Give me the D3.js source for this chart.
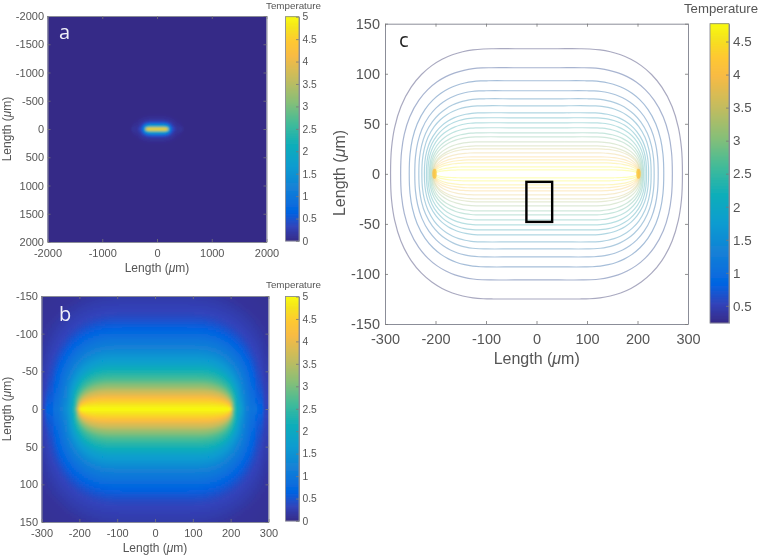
<!DOCTYPE html>
<html><head><meta charset="utf-8">
<script src="https://cdnjs.cloudflare.com/ajax/libs/d3/7.8.5/d3.min.js"></script>
<style>html,body{margin:0;background:#fff}svg{display:block}
text{font-family:"Liberation Sans",Arial,sans-serif;fill:#555}</style></head>
<body><svg id="c" width="760" height="556"></svg>
<script>
// --- data (Temperature, lengths in micrometres) ---
const contourLevels     = [0.35,0.65,0.95,1.15,1.4,1.6,1.8,2.0,2.2,2.4,2.6,2.8,3.1,3.3,3.6,3.8,4.05,4.3,4.5,4.7,4.85];
const contourHalfHeight = [125,106,93,83,75,68,61,56,51,46,41,37,32,28,25,21,17,14,11,7,4];
const contourHalfWidth  = [289,269,252,241,233,227,222,218,215,212,210,208,206.5,205,204,203,202.5,202,201.5,201,200.5];
const contourFlatEnd    = [85,90,95,100,100,105,105,110,110,110,110,110,110,110,115,115,120,120,125,130,135];
const cornerU = [0,0.1,0.2,0.3,0.4,0.5,0.6,0.7,0.8,0.9,0.96,0.99,1];
const cornerV = [1,0.998,0.991,0.976,0.952,0.916,0.865,0.794,0.693,0.536,0.372,0.211,0];
const outerLevels = [0,0.12], outerHeight = [270,165], outerWidth = [470,345], outerFlat = [0,40];
const sourceLevel = 5, sourceHalfLength = 200;
const sourceEnds = [-202,202], endSpotLevel = 4.1, endSpotRx = 4.5, endSpotRy = 5;
const ticksA = [-2000,-1500,-1000,-500,0,500,1000,1500,2000], ticksAx = [-2000,-1000,0,1000,2000];
const ticksBy = [-150,-100,-50,0,50,100,150], ticksBx = [-300,-200,-100,0,100,200,300];
const ticksCy = [-150,-100,-50,0,50,100,150], ticksCx = [-300,-200,-100,0,100,200,300];
const barTicks = [0,0.5,1,1.5,2,2.5,3,3.5,4,4.5,5];
const barTicksC = [0.5,1,1.5,2,2.5,3,3.5,4,4.5];
const barRangeC = [0.24,4.77];
const boxC = {x0:-20,x1:31,y0:-48,y1:-8};
const parula = ["#352a87","#3243ba","#0363e1","#1481d6","#079cd0","#0faeb9","#42bb98","#87bf77","#c0bc60","#f8bb44","#fec832","#f5e41d","#f9fb0e"];
const parulaPos = [0,4,8,15,21,27,33,39,45,52,56,60,63];

// --- helpers ---
const colorT = d3.scaleLinear().domain(parulaPos.map(d=>d/63)).range(parula).interpolate(d3.interpolateRgb).clamp(true);
const corner = d3.scaleLinear().domain(cornerU).range(cornerV);
const fL = outerLevels.concat(contourLevels,[sourceLevel]);
const fH = outerHeight.concat(contourHalfHeight,[0]);
const fW = outerWidth.concat(contourHalfWidth,[sourceHalfLength]);
const fF = outerFlat.concat(contourFlatEnd,[sourceHalfLength]);
function heightAt(i,x){ if(x<=fF[i]) return fH[i]; if(x>=fW[i]) return 0; return fH[i]*corner((x-fF[i])/(fW[i]-fF[i])); }
function temperature(px,py){
  const x=Math.abs(px), y=Math.abs(py);
  let prev=heightAt(0,x);
  if(y>=prev) return fL[0];
  for(let i=1;i<fL.length;i++){
    const h=heightAt(i,x);
    if(y>=h){ const t=(y-h)/((prev-h)||1); return fL[i]+(fL[i-1]-fL[i])*t; }
    prev=h;
  }
  return sourceLevel;
}
const svg = d3.select("#c");
const defs = svg.append("defs");
const soft = (id,s)=>defs.append("filter").attr("id",id).attr("x","-5%").attr("y","-5%").attr("width","110%").attr("height","110%")
  .append("feGaussianBlur").attr("stdDeviation",s);
soft("soft",0.35); soft("heat",0.9);
const root = svg.append("g").attr("filter","url(#soft)");
root.append("rect").attr("width",760).attr("height",556).attr("fill","#fff");

function styleAxis(g,size){
  g.selectAll("path.domain").attr("stroke","#8b8d98").attr("stroke-width",1);
  g.selectAll("line").attr("stroke","#777").attr("stroke-width",0.8);
  g.selectAll("text").attr("font-size",size).attr("fill","#555");
}
function axes(g,x,y,xt,yt,size,padX,padY){
  const [x0,x1]=x.range(), [y1,y0]=y.range();
  const f=d=>String(d);
  g.append("g").attr("transform",`translate(0,${Math.max(y0,y1)})`).call(d3.axisBottom(x).tickValues(xt).tickFormat(f).tickSizeInner(-3).tickSizeOuter(0).tickPadding(padX)).call(styleAxis,size);
  g.append("g").attr("transform",`translate(${x0},0)`).call(d3.axisLeft(y).tickValues(yt).tickFormat(f).tickSizeInner(-3).tickSizeOuter(0).tickPadding(padY)).call(styleAxis,size);
  g.append("g").attr("transform",`translate(0,${Math.min(y0,y1)})`).call(d3.axisTop(x).tickValues(xt).tickFormat("").tickSizeInner(-3).tickSizeOuter(0)).call(styleAxis,size);
  g.append("g").attr("transform",`translate(${x1},0)`).call(d3.axisRight(y).tickValues(yt).tickFormat("").tickSizeInner(-3).tickSizeOuter(0)).call(styleAxis,size);
}
function lengthLabel(cx,cy,size,rot){
  const t=root.append("text").attr("text-anchor","middle").attr("font-size",size).attr("fill","#555")
    .attr("transform",`translate(${cx},${cy})${rot?" rotate(-90)":""}`).attr("dy","0.35em");
  t.append("tspan").text("Length (");
  t.append("tspan").attr("font-style","italic").text("\u03bc");
  t.append("tspan").text("m)");
}
function colorbar(x0,x1,y0,y1,domain,ticks,tickSize,titleX,titleY,titleSize,pad){
  const s=d3.scaleLinear().domain(domain).range([y1,y0]);
  const g=root.append("g");
  const rows=d3.range(Math.floor(y0),Math.ceil(y1));
  g.selectAll("rect").data(rows).join("rect").attr("x",x0).attr("y",d=>d).attr("width",x1-x0).attr("height",1.2)
    .attr("fill",d=>colorT((y1-d-0.5)/(y1-y0)));
  g.append("g").attr("transform",`translate(${x1},0)`).call(d3.axisRight(s).tickValues(ticks).tickFormat(String).tickSizeInner(-3).tickSizeOuter(0).tickPadding(pad)).call(styleAxis,tickSize);
  g.append("rect").attr("x",x0).attr("y",y0).attr("width",x1-x0).attr("height",y1-y0).attr("fill","none").attr("stroke","#8b8d98").attr("stroke-width",0.9);
  root.append("text").attr("x",titleX).attr("y",titleY).attr("dy","0.35em").attr("text-anchor","middle").attr("font-size",titleSize).attr("fill","#555").text("Temperature");
}
function heatPanel(id,x,y,step,xt,yt,limit){
  const g=root.append("g");
  const [x0,x1]=x.range(), [yTop,yBot]=y.range();
  defs.append("clipPath").attr("id",id).append("rect").attr("x",x0).attr("y",yTop).attr("width",x1-x0).attr("height",yBot-yTop);
  const clip=g.append("g").attr("clip-path",`url(#${id})`);
  const hg=clip.append("g").attr("filter","url(#heat)");
  hg.append("rect").attr("x",x0-8).attr("y",yTop-8).attr("width",x1-x0+16).attr("height",yBot-yTop+16).attr("fill",colorT(0));
  const px=d3.range(x0-6,x1+6,step), py=d3.range(yTop-6,yBot+6,step);
  const cells=[];
  px.forEach(a=>py.forEach(b=>{
    const t=temperature(x.invert(a+step/2),y.invert(b+step/2));
    if(t>limit) cells.push({a,b,t});
  }));
  hg.selectAll("rect.c").data(cells).join("rect").attr("class","c").attr("x",d=>d.a).attr("y",d=>d.b)
    .attr("width",step+0.5).attr("height",step+0.5).attr("fill",d=>colorT(d.t/5));
  axes(g,x,y,xt,yt,11,7,3.5);
}
function panelLetter(s,x,y,fill){
  root.append("text").attr("x",x).attr("y",y).attr("font-size",20).attr("fill",fill).style("font-family","'Open Sans',sans-serif").style("fill",fill).text(s);
}

// --- panel a ---
heatPanel("clipA",d3.scaleLinear().domain([-2000,2000]).range([47.5,266.5]),d3.scaleLinear().domain([-2000,2000]).range([16,242]),1,ticksAx,ticksA,0.001);
lengthLabel(157,268,12,false); lengthLabel(7,129,12,true);
colorbar(285.5,299,16.7,241,[0,5],barTicks,10.3,293.5,5.5,9.8,3.5);
panelLetter("a",59,39,"#f0f0f8");

// --- panel b ---
heatPanel("clipB",d3.scaleLinear().domain([-300,300]).range([41.5,268.5]),d3.scaleLinear().domain([-150,150]).range([296,522]),2,ticksBx,ticksBy,0.001);
lengthLabel(155,548,12,false); lengthLabel(7,409,12,true);
colorbar(285.5,299,296.5,521,[0,5],barTicks,10.3,293.5,285,9.8,3.5);
panelLetter("b",59,320.5,"#f0f0f8");

// --- panel c ---
const xC=d3.scaleLinear().domain([-300,300]).range([385,688]);
const yC=d3.scaleLinear().domain([-150,150]).range([324,23.7]);
const line=d3.line().x(d=>xC(d[0])).y(d=>yC(d[1])).curve(d3.curveCatmullRomClosed.alpha(1));
const contourColor=d3.scaleLinear().domain(barRangeC).range([0,1]);
const grayMix=d3.scaleLinear().domain([0.3,2.5,4]).range([0.62,0.2,0]).clamp(true);
const opacity=d3.scaleLinear().domain([0.3,1.4,2.4,3.4]).range([0.55,0.42,0.32,0.28]).clamp(true);
const gC=root.append("g");
gC.selectAll("path.contour").data(contourLevels).join("path").attr("class","contour")
  .attr("fill","none").attr("stroke-width",1.2).attr("stroke-opacity",d=>opacity(d))
  .attr("stroke",d=>d3.interpolateRgb(colorT(contourColor(d)),"#808080")(grayMix(d)))
  .attr("d",(d,i)=>{
    const h=contourHalfHeight[i], w=contourHalfWidth[i], f=contourFlatEnd[i];
    const q=[[0,h],[f*0.5,h]].concat(cornerU.map((u,k)=>[f+u*(w-f),h*cornerV[k]]));
    const se=q.slice(0,-1).reverse().map(p=>[p[0],-p[1]]);
    const sw=q.slice(1).map(p=>[-p[0],-p[1]]), nw=q.slice(1,-1).reverse().map(p=>[-p[0],p[1]]);
    return line(q.concat(se,sw,nw));
  });
gC.selectAll("ellipse.spot").data(sourceEnds).join("ellipse").attr("class","spot")
  .attr("cx",d=>xC(d)).attr("cy",yC(0))
  .attr("rx",xC(endSpotRx)-xC(0)).attr("ry",yC(0)-yC(endSpotRy))
  .attr("fill",colorT(contourColor(endSpotLevel))).attr("fill-opacity",0.75);
axes(gC,xC,yC,ticksCx,ticksCy,14.5,10,5);
gC.append("rect").attr("x",xC(boxC.x0)).attr("y",yC(boxC.y1)).attr("width",xC(boxC.x1)-xC(boxC.x0)).attr("height",yC(boxC.y0)-yC(boxC.y1))
  .attr("fill","none").attr("stroke","#000").attr("stroke-width",2.4);
lengthLabel(536.7,358,16,false); lengthLabel(339,173,16,true);
colorbar(710,729,23.7,323,barRangeC,barTicksC,13.4,721,8,13.2,4);
panelLetter("c",399,47.3,"#222");
</script></body></html>
